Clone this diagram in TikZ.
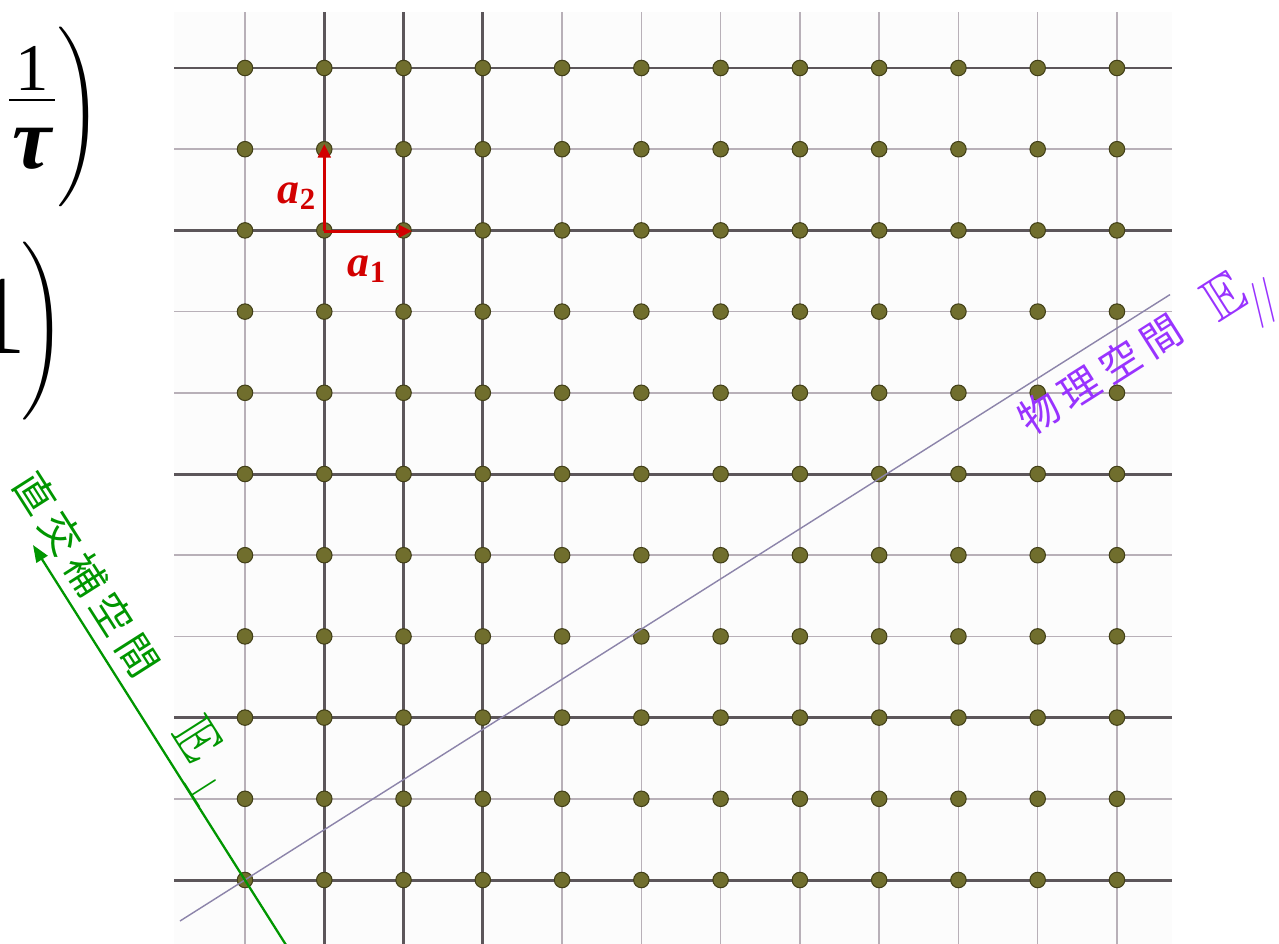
\documentclass[tikz,border=0pt]{standalone}
\usepackage{amsmath,amssymb}
\usepackage{fontspec}
\setmainfont{Liberation Serif}
\newfontfamily\jpfont[LetterSpace=19]{Noto Sans CJK JP}
\usetikzlibrary{arrows.meta}
\definecolor{dotolive}{RGB}{112,110,45}
\definecolor{dotrim}{RGB}{66,64,24}
\definecolor{thickgray}{RGB}{92,86,90}
\definecolor{thingray}{RGB}{184,176,184}
\definecolor{paraline}{RGB}{140,132,170}
\definecolor{paraviolet}{RGB}{153,51,255}
\definecolor{perpgreen}{RGB}{0,150,0}
\definecolor{basisred}{RGB}{210,0,0}
\begin{document}
\begin{tikzpicture}[x=0.02cm,y=-0.02cm,
    thinrule/.style={thingray,line width=0.85pt},
    thickrule/.style={thickgray,line width=1.7pt},
    latticept/.style={fill=dotolive,draw=dotrim,line width=0.6pt},
    basisvec/.style={basisred,line width=1.7pt,-{Triangle[length=0.27cm,width=0.25cm]}},
    basislab/.style={basisred,font=\fontsize{25}{25}\selectfont\bfseries},
    perpaxis/.style={perpgreen,line width=1.3pt,-{Triangle[length=0.34cm,width=0.26cm]}},
    paraaxis/.style={paraline,line width=0.8pt},
    cjklab/.style={inner sep=0pt,font=\jpfont\fontsize{23}{24}\selectfont},
    bigparen/.style={inner sep=0pt,font=\fontsize{32}{32}\selectfont}]
    \useasboundingbox (0,0) rectangle (1279,944);
    %lattice background
    \fill[black!1] (174,12) rectangle (1172,944);
    %thin lines
    \foreach \j in {1,3,4,6,7,9}
        \draw[thinrule] (174,{880-81.2*\j}) -- (1172,{880-81.2*\j});
    \foreach \i in {0,4,5,...,11}
        \draw[thinrule] ({245+79.27*\i},12) -- ({245+79.27*\i},944);
    %thick lines
    \foreach \j in {0,2,5,8,10}
        \draw[thickrule] (174,{880-81.2*\j}) -- (1172,{880-81.2*\j});
    \foreach \i in {1,2,3}
        \draw[thickrule] ({245+79.27*\i},12) -- ({245+79.27*\i},944);
    %lattice points
    \foreach \i in {0,...,11}
        \foreach \j in {0,...,10}
            \filldraw[latticept] ({245+79.27*\i},{880-81.2*\j}) circle (0.155cm);

    %physical space
    \coordinate (paraA) at (180,921);
    \coordinate (paraB) at (1170,294.6);
    \draw[paraaxis] (paraA) -- (paraB);
    \node[cjklab,paraviolet,rotate=32.4,anchor=base west] (paralab) at (1030,437)
        {物理空間\hspace{20pt}\raisebox{-3pt}{\fontsize{34}{34}\selectfont$\mathbb{E}_{\!/\!/}$}};

    %perpendicular space
    \coordinate (perpA) at (293,956);
    \coordinate (perpB) at (33,545);
    \draw[perpaxis] (perpA) -- (perpB);
    \node[cjklab,perpgreen,rotate=-57.5,anchor=base west] (perplab) at (11,484)
        {直交補空間\hspace{36pt}{\fontsize{34}{34}\selectfont$\mathbb{E}_{\,\raisebox{-3pt}{$\scriptstyle\perp$}}$}};

    %basis
    \coordinate (origin) at (324.3,231.2);
    \coordinate (a1tip) at (412,231.2);
    \coordinate (a2tip) at (324.3,144);
    \draw[basisvec] (origin) -- (a1tip);
    \draw[basisvec] (origin) -- (a2tip);
    \node[basislab] (a2lab) at (297,196) {\textit{a}\textsubscript{2}};
    \node[basislab] (a1lab) at (367,269) {\textit{a}\textsubscript{1}};

    %projection matrix (cut off)
    \node[inner sep=0pt,anchor=base west,font=\fontsize{38}{38}\selectfont] (num) at (15,90) {1};
    \draw[line width=1.7pt] (9,100) -- (55,100);
    \node[inner sep=0pt,anchor=base,font=\fontsize{50}{50}\selectfont\bfseries\itshape] (tau) at (32,168) {τ};
    \node[bigparen] (rparA) at (79,117) {\scalebox{1}[1.065]{$\left.\vcenter{\hbox{\rule{0pt}{3.5cm}}}\right)$}};
    \node[inner sep=0pt,anchor=base west,font=\fontsize{64}{64}\selectfont] (one) at (-30,353) {1};
    \node[bigparen] (rparB) at (43,331) {\scalebox{1}[1.055]{$\left.\vcenter{\hbox{\rule{0pt}{3.4cm}}}\right)$}};
\end{tikzpicture}
\end{document}
